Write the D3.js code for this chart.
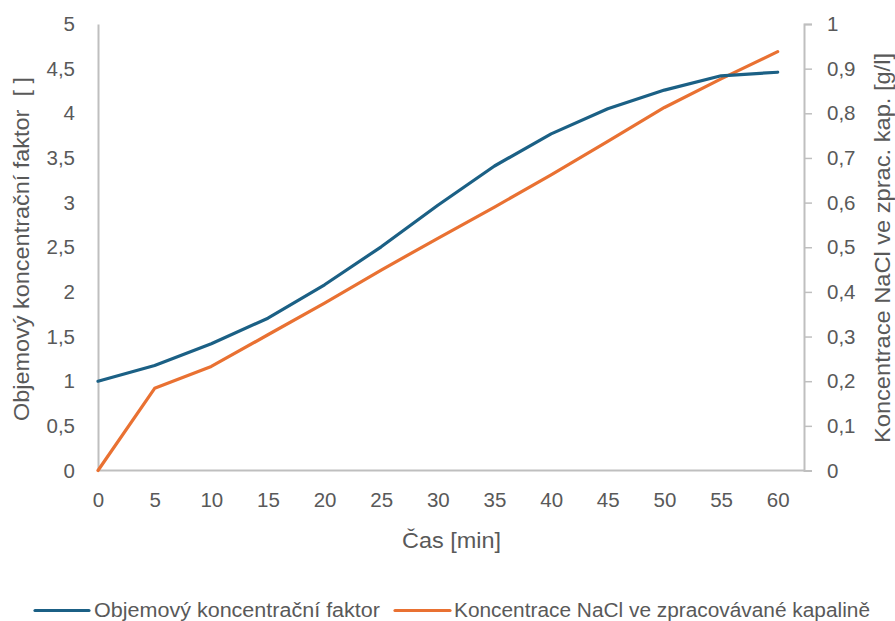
<!DOCTYPE html>
<html>
<head>
<meta charset="utf-8">
<script src="https://cdn.jsdelivr.net/npm/d3@7"></script>
<style>
  html, body { margin: 0; padding: 0; background: #fff; }
  svg { display: block; font-family: "Liberation Sans", Arial, sans-serif; }
</style>
</head>
<body>
<svg id="chart" width="895" height="621"></svg>
<script>
const times = [0, 5, 10, 15, 20, 25, 30, 35, 40, 45, 50, 55, 60];
const vcf = [1.0, 1.175, 1.42, 1.705, 2.08, 2.505, 2.97, 3.41, 3.77, 4.05, 4.26, 4.42, 4.46];
const nacl = [0, 0.184, 0.233, 0.304, 0.375, 0.449, 0.52, 0.59, 0.662, 0.737, 0.813, 0.877, 0.938];
const xTicks = [0, 5, 10, 15, 20, 25, 30, 35, 40, 45, 50, 55, 60];
const leftTicks = [0, 0.5, 1, 1.5, 2, 2.5, 3, 3.5, 4, 4.5, 5];
const rightTicks = [0, 0.1, 0.2, 0.3, 0.4, 0.5, 0.6, 0.7, 0.8, 0.9, 1];
const seriesNames = ["Objemový koncentrační faktor", "Koncentrace NaCl ve zpracovávané kapalině"];
const xTitle = "Čas [min]";
const yLeftTitle = "Objemový koncentrační faktor  [ ]";
const yRightTitle = "Koncentrace NaCl ve zprac. kap. [g/l]";

const colors = ["#1B6085", "#E97132"];
const textColor = "#595959";
const axisColor = "#BFBFBF";
const fmt = v => String(v).replace(".", ",");

const svg = d3.select("#chart");
const L = 98, R = 804, T = 24, B = 470.5;

const x = d3.scaleLinear().domain([0, 60]).range([L, R - 26.3]);
const yL = d3.scaleLinear().domain([0, 5]).range([B, T]);
const yR = d3.scaleLinear().domain([0, 1]).range([B, T]);

const gL = svg.append("g").attr("transform", `translate(${L},0)`)
  .call(d3.axisLeft(yL).tickValues(leftTicks).tickSize(0).tickPadding(23).tickFormat(fmt));
const gR = svg.append("g").attr("transform", `translate(${R},0)`)
  .call(d3.axisRight(yR).tickValues(rightTicks).tickSize(8).tickPadding(15).tickFormat(fmt));
const gB = svg.append("g").attr("transform", `translate(0,${B})`)
  .call(d3.axisBottom(x).tickValues(xTicks).tickSize(0).tickPadding(22).tickFormat(fmt));

[gL, gR, gB].forEach(g => {
  g.select(".domain").attr("stroke", axisColor).attr("stroke-width", 2);
  g.selectAll(".tick line").attr("stroke", axisColor).attr("stroke-width", 1.5);
  g.selectAll(".tick text").attr("fill", textColor).attr("font-size", 20.5)
    .attr("font-family", "Liberation Sans, Arial, sans-serif");
});
gB.select(".domain").attr("d", `M${L},0H${R}`);

const lineL = d3.line().x((d, i) => x(times[i])).y(d => yL(d));
const lineR = d3.line().x((d, i) => x(times[i])).y(d => yR(d));
svg.append("path").datum(nacl).attr("d", lineR).attr("fill", "none")
  .attr("stroke", colors[1]).attr("stroke-width", 3.2).attr("stroke-linejoin", "round").attr("stroke-linecap", "round");
svg.append("path").datum(vcf).attr("d", lineL).attr("fill", "none")
  .attr("stroke", colors[0]).attr("stroke-width", 3.2).attr("stroke-linejoin", "round").attr("stroke-linecap", "round");

svg.append("text").attr("x", 402).attr("y", 548)
  .attr("fill", textColor).attr("font-size", 22)
  .attr("textLength", 99).attr("lengthAdjust", "spacingAndGlyphs").text(xTitle);
svg.append("text").attr("transform", `translate(29,421) rotate(-90)`)
  .attr("fill", textColor).attr("font-size", 22).style("white-space", "pre")
  .attr("textLength", 344).attr("lengthAdjust", "spacingAndGlyphs").text(yLeftTitle);
svg.append("text").attr("transform", `translate(890,443) rotate(-90)`)
  .attr("fill", textColor).attr("font-size", 22)
  .attr("textLength", 390).attr("lengthAdjust", "spacingAndGlyphs").text(yRightTitle);

const legend = [
  { x1: 35, x2: 89, tx: 94, tw: 286 },
  { x1: 395, x2: 450, tx: 454, tw: 416 }
];
legend.forEach((p, i) => {
  svg.append("line").attr("x1", p.x1).attr("x2", p.x2).attr("y1", 610.5).attr("y2", 610.5)
    .attr("stroke", colors[i]).attr("stroke-width", 3.2).attr("stroke-linecap", "round");
  svg.append("text").attr("x", p.tx).attr("y", 617).attr("fill", textColor).attr("font-size", 20)
    .attr("textLength", p.tw).attr("lengthAdjust", "spacingAndGlyphs").text(seriesNames[i]);
});
</script>
</body>
</html>
